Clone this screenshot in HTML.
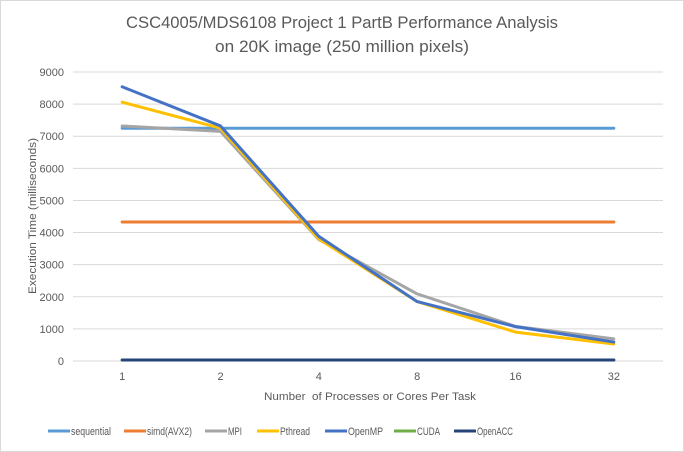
<!DOCTYPE html>
<html><head><meta charset="utf-8"><style>
body{margin:0;background:#fff;font-family:"Liberation Sans",sans-serif}
svg{display:block}
</style></head><body>
<svg id="chart" width="684" height="452" xmlns="http://www.w3.org/2000/svg">
<rect x="0.5" y="0.5" width="683" height="451" fill="#fff" stroke="#d9d9d9"/>
<text x="342" y="28" text-anchor="middle" font-size="17" fill="#595959" textLength="432" lengthAdjust="spacingAndGlyphs">CSC4005/MDS6108 Project 1 PartB Performance Analysis</text>
<text x="342" y="52" text-anchor="middle" font-size="17" fill="#595959" textLength="254" lengthAdjust="spacingAndGlyphs">on 20K image (250 million pixels)</text>
<g id="grid"></g><g id="yt"></g><g id="xt"></g><g id="series"></g><g id="legend"></g>
<text transform="translate(36,216) rotate(-90)" text-anchor="middle" font-size="11" fill="#595959" textLength="156" lengthAdjust="spacingAndGlyphs">Execution Time (milliseconds)</text>
<text x="370" y="400" text-anchor="middle" font-size="11" fill="#595959" textLength="212" lengthAdjust="spacingAndGlyphs">Number&#160; of Processes or Cores Per Task</text>
</svg>
<script>
const categories=["1","2","4","8","16","32"];
const yTicks=[0,1000,2000,3000,4000,5000,6000,7000,8000,9000];
const seriesNames=["sequential","simd(AVX2)","MPI","Pthread","OpenMP","CUDA","OpenACC"];
const seriesColors=["#5b9bd5","#ed7d31","#a5a5a5","#ffc000","#4472c4","#70ad47","#264478"];
const sequential=[7250,7250,7250,7250,7250,7250];
const simd=[4330,4330,4330,4330,4330,4330];
const mpi=[7320,7150,3780,2090,1080,690];
const pthread=[8060,7250,3800,1850,900,530];
const openmp=[8540,7320,3880,1850,1070,590];
const cuda=[30,30,30,30,30,30];
const openacc=[30,30,30,30,30,30];
const seriesData=[sequential,simd,mpi,pthread,openmp,cuda,openacc];
const NS="http://www.w3.org/2000/svg";
const x0=73,x1=663,yb=361,yt=72;
const xs=i=>x0+(i+0.5)*(x1-x0)/categories.length;
const ys=v=>yb-v*(yb-yt)/9000;
function mk(t,a,p){const e=document.createElementNS(NS,t);for(const k in a)e.setAttribute(k,a[k]);p.appendChild(e);return e;}
const g=document.getElementById('grid'),gy=document.getElementById('yt'),gx=document.getElementById('xt'),gs=document.getElementById('series'),gl=document.getElementById('legend');
yTicks.forEach(v=>{
 const l=mk('line',{x1:x0,x2:x1,y1:ys(v),y2:ys(v),stroke:'#d9d9d9','stroke-width':1},g);
 
 
 const t=mk('text',{x:64,y:ys(v)+4,'text-anchor':'end','font-size':11,fill:'#595959'},gy);
 t.textContent=v;
 
 
});
categories.forEach((c,i)=>{
 const t=mk('text',{x:xs(i),y:380,'text-anchor':'middle','font-size':11,fill:'#595959'},gx);
 t.textContent=c;
 
 
});
seriesData.forEach((d,si)=>{
 const p=mk('polyline',{points:d.map((v,i)=>xs(i)+','+ys(v)).join(' '),fill:'none',stroke:seriesColors[si],'stroke-width':3,'stroke-linejoin':'round','stroke-linecap':'round'},gs);
 
 
});
const lx=[48,124,205,257,325,394,454];
const lw=[40,45,14,30,35,23,36];
seriesNames.forEach((n,i)=>{
 const l=mk('line',{x1:lx[i],x2:lx[i]+22,y1:431,y2:431,stroke:seriesColors[i],'stroke-width':3},gl);
 
 
 const t=mk('text',{x:lx[i]+23,y:435,'font-size':11,fill:'#595959',textLength:lw[i],lengthAdjust:'spacingAndGlyphs'},gl);
 t.textContent=n;
 
 
});
</script>
</body></html>
